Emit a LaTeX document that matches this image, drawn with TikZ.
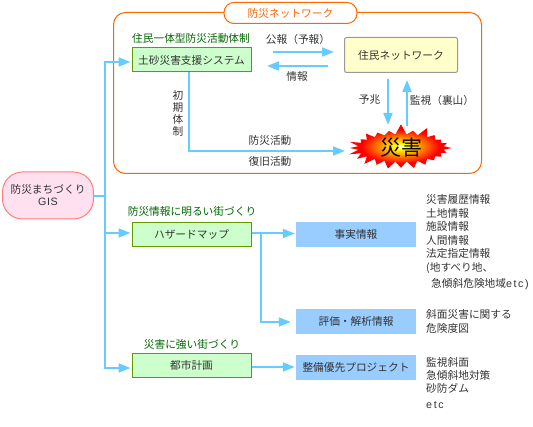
\documentclass[tikz,border=0pt]{standalone}
\usepackage{fontspec}
\setmainfont{Noto Sans CJK JP}
\newfontfamily\latinwide[LetterSpace=15]{Liberation Sans}
\newfontfamily\latinplain[LetterSpace=6]{Liberation Sans}
\usetikzlibrary{arrows.meta,calc,positioning,shapes.symbols}
\definecolor{flowblue}{HTML}{66CCFF}
\definecolor{netorange}{HTML}{FF6600}
\definecolor{labelgreen}{HTML}{006600}
\definecolor{inkgray}{HTML}{333333}
\definecolor{boxgreen}{HTML}{CCFFCC}
\definecolor{edgegreen}{HTML}{669900}
\definecolor{boxblue}{HTML}{99CCFF}
\definecolor{boxyellow}{HTML}{FFFFCC}
\definecolor{boxpink}{HTML}{FFE0EE}
\definecolor{edgepink}{HTML}{FF7F7F}
\pgfdeclareradialshading{burstshade}{\pgfpoint{0cm}{0cm}}{color(0bp)=(white); color(3bp)=(yellow); color(19bp)=(red); color(50bp)=(red); color(75bp)=(red)}
\tikzset{
  txt/.style={font=\fontsize{10.7pt}{12pt}\selectfont,text=inkgray,inner sep=0pt},
  greenlabel/.style={txt,text=labelgreen},
  flow/.style={draw=flowblue,line width=2pt,-{Triangle[length=12pt,width=9pt]}},
  flowline/.style={draw=flowblue,line width=2pt},
  greenbox/.style={txt,draw=edgegreen,line width=1pt,fill=boxgreen,minimum width=119pt,minimum height=24pt},
  bluebox/.style={txt,fill=boxblue,minimum width=120pt,minimum height=25pt},
}
\begin{document}
\begin{tikzpicture}[x=1pt,y=-1pt]
  \useasboundingbox (0,0) rectangle (533,427);
  \node[draw=netorange,line width=1pt,rounded corners=12pt,minimum width=368pt,minimum height=161pt] (frame) at (297.5,93) {};
  \node[txt,text=netorange,draw=netorange,line width=1pt,fill=white,rounded corners=10pt,minimum width=133pt,minimum height=21pt] (tab) at (290.5,13) {防災ネットワーク};
  \node[txt,draw=edgepink,line width=1pt,fill=boxpink,rounded corners=20pt,minimum width=91pt,minimum height=47pt,align=center] (gis) at (48,195.5) {防災まちづくり\\{\latinplain GIS}};

  \node[greenbox] (shien) at (191.5,60) {土砂災害支援システム};
  \node[greenbox] (hazard) at (191.5,234.5) {ハザードマップ};
  \node[greenbox] (toshi) at (191.5,365.5) {都市計画};
  \node[greenlabel] (shienlabel) at (191,38) {住民一体型防災活動体制};
  \node[greenlabel] (hazardlabel) at (192,211) {防災情報に明るい街づくり};
  \node[greenlabel] (toshilabel) at (192,344) {災害に強い街づくり};

  \node[txt,draw=gray!80,line width=1pt,fill=boxyellow,rounded corners=2pt,minimum width=113pt,minimum height=35pt] (jumin) at (401,55) {住民ネットワーク};
  \node[starburst,starburst points=24,starburst point height=11pt,random starburst=7,shading=burstshade,inner sep=0pt,minimum width=108pt,minimum height=44pt,font=\fontsize{21pt}{22pt}\selectfont] (saigai) at (401,148) {災害};

  \node[bluebox] (jijitsu) at (356,234.5) {事実情報};
  \node[bluebox] (hyoka) at (356,321.5) {評価・解析情報};
  \node[bluebox] (seibi) at (356,367.5) {整備優先プロジェクト};

  \coordinate (trunk) at (105,196);
  \coordinate (turn) at (189,151);
  \coordinate (saigaiin) at (345,151);
  \coordinate (branch) at (261,234);
  \coordinate (kohoa) at (273,52);
  \coordinate (kohob) at (334,52);
  \coordinate (johoa) at (328,66);
  \coordinate (johob) at (267,66);
  \coordinate (yochoa) at (388,79);
  \coordinate (yochob) at (388,125);
  \coordinate (kanshia) at (407,126);
  \coordinate (kanshib) at (407,80);

  \draw[flowline] (gis.east |- trunk) -- (trunk);
  \draw[flow] (trunk) |- ($(shien.west)+(-1,2)$);
  \draw[flow] (trunk) |- ($(hazard.west)+(-1,-1.5)$);
  \draw[flow] (trunk) |- ($(toshi.west)+(-1,2.5)$);
  \draw[flow] (turn |- shien.south) -- (turn) -- (saigaiin);
  \draw[flow] (kohoa) -- (kohob);
  \draw[flow] (johoa) -- (johob);
  \draw[flow] (yochoa) -- (yochob);
  \draw[flow] (kanshia) -- (kanshib);
  \draw[flow] (hazard.east) ++(0,-1) -- ($(jijitsu.west)+(-1,-1)$);
  \draw[flow] (branch) |- ($(hyoka.west)+(-5,0.5)$);
  \draw[flow] (toshi.east) ++(0,1.5) -- ($(seibi.west)+(-1,-0.5)$);

  \node[txt] (koho) at (298,39) {公報（予報）};
  \node[txt] (joho) at (297,76) {情報};
  \node[txt] (yocho) at (369.5,100) {予兆};
  \node[txt] (kanshi) at (442,100) {監視（裏山）};
  \node[txt,align=center] (shoki) at (178,113) {初\\期\\体\\制};
  \node[txt] (bosai) at (270,140) {防災活動};
  \node[txt] (fukkyu) at (270,161) {復旧活動};

  \foreach \y/\t [count=\i] in {199/災害履歴情報,213/土地情報,226/施設情報,240/人間情報,253/法定指定情報,268/(地すべり地、,284/\hspace*{5pt}急傾斜危険地域{\latinwide etc)},314/斜面災害に関する,328/危険度図,362/監視斜面,375/急傾斜地対策,388/砂防ダム,405/{\latinwide etc}}{
    \node[txt,anchor=west] (item\i) at (426,\y) {\t};
  }
\end{tikzpicture}
\end{document}
